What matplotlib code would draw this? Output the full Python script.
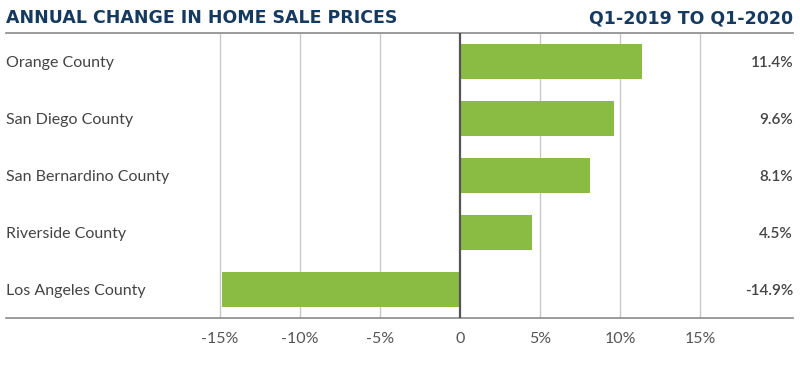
import matplotlib
matplotlib.use("Agg")
import matplotlib.pyplot as plt
from matplotlib.transforms import blended_transform_factory

categories = ["Orange County", "San Diego County", "San Bernardino County",
              "Riverside County", "Los Angeles County"]
values = [11.4, 9.6, 8.1, 4.5, -14.9]
value_labels = ["11.4%", "9.6%", "8.1%", "4.5%", "-14.9%"]
ticks = [-15, -10, -5, 0, 5, 10, 15]
tick_labels = ["-15%", "-10%", "-5%", "0", "5%", "10%", "15%"]

plt.rcParams['font.family'] = ['Lato', 'DejaVu Sans']

fig = plt.figure(figsize=(8, 3.67), dpi=100)
W, H = 800, 367
ax = fig.add_axes([6 / W, (H - 318) / H, (793 - 6) / W, (318 - 33) / H])

green = "#8abb43"
navy = "#163a5f"
ypos = list(range(len(categories)))
ax.barh(ypos, values, height=0.6, color=green, zorder=3)
ax.set_ylim(len(categories) - 0.5, -0.5)
ax.set_xlim((6 - 460) / 16, (793 - 460) / 16)

for t in ticks:
    if t == 0:
        ax.axvline(t, color="#555555", lw=1.6, zorder=4)
    else:
        ax.axvline(t, color="#c8c8c8", lw=1.0, zorder=1)

ax.set_xticks(ticks)
ax.set_xticklabels(tick_labels, fontsize=11.5, color="#555555")
ax.tick_params(axis="x", length=0, pad=10)
ax.set_yticks([])

for s in ["left", "right"]:
    ax.spines[s].set_visible(False)
for s in ["top", "bottom"]:
    ax.spines[s].set_color("#8a8a8a")
    ax.spines[s].set_linewidth(1.2)

trans = blended_transform_factory(ax.transAxes, ax.transData)
for y, c, vl in zip(ypos, categories, value_labels):
    ax.text(0.0, y, c, transform=trans, ha="left", va="center_baseline",
            fontsize=11.5, color="#444444")
    ax.text(1.0, y, vl, transform=trans, ha="right", va="center_baseline",
            fontsize=11, color="#444444", fontweight="semibold")

fig.text(6 / W, 1 - 18 / H, "ANNUAL CHANGE IN HOME SALE PRICES", ha="left",
         va="center", fontsize=12.5, fontweight="bold", color=navy,
         family=["DejaVu Sans"])
fig.text(793 / W, 1 - 18 / H, "Q1-2019 TO Q1-2020", ha="right",
         va="center", fontsize=12.5, fontweight="bold", color=navy,
         family=["DejaVu Sans"])

fig.savefig("out.png", dpi=100)
